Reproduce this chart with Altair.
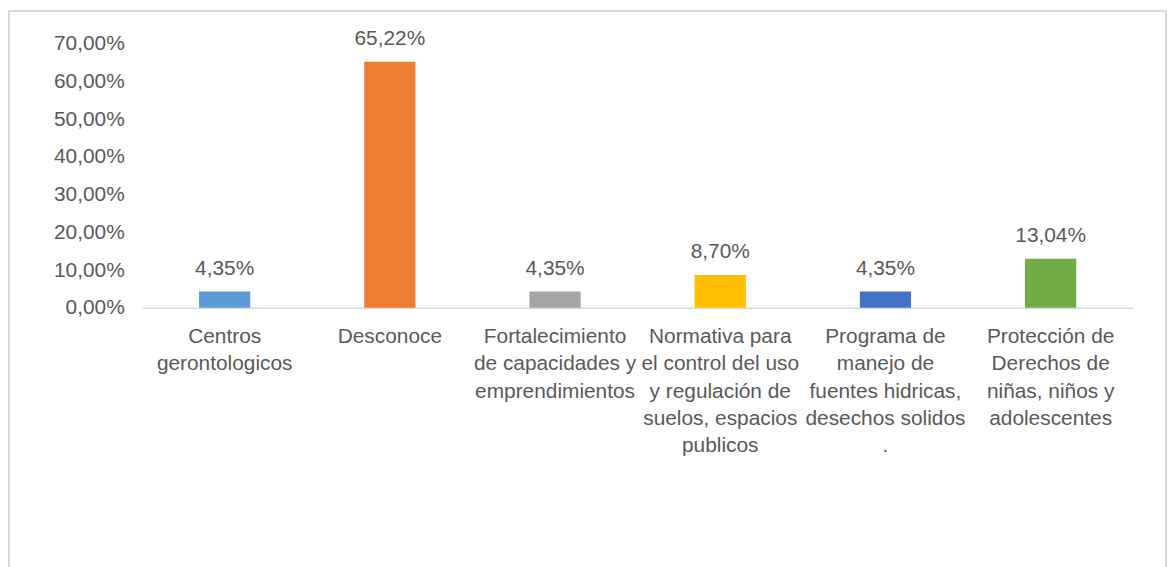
import altair as alt
import pandas as pd

label_lines = [
    ["Centros", "gerontologicos"],
    ["Desconoce"],
    ["Fortalecimiento", "de capacidades  y", "emprendimientos"],
    ["Normativa   para", "el control del uso", "y regulación de", "suelos, espacios", "publicos"],
    ["Programa  de", "manejo  de", "fuentes hidricas,", "desechos solidos", "."],
    ["Protección de", "Derechos de", "niñas, niños y", "adolescentes"],
]
categories = ["\n".join(l) for l in label_lines]
values = [4.35, 65.22, 4.35, 8.70, 4.35, 13.04]
colors = ["#5B9BD5", "#ED7D31", "#A5A5A5", "#FFC000", "#4472C4", "#70AD47"]
y_ticks = [0, 10, 20, 30, 40, 50, 60, 70]

df = pd.DataFrame({"cat": categories, "v": values, "color": colors})

FONT = "Liberation Sans, Arial, sans-serif"
TXT = "#595959"
FS = 21
W, H = 998, 266
PL, PT, PR, PB = 135, 34, 34, 260

x_scale = alt.Scale(paddingInner=0.69, paddingOuter=0.345)
y_scale = alt.Scale(domain=[0, 70])

x_axis = alt.Axis(
    labelExpr="split(datum.label, '\\n')", labelAngle=0, labelFont=FONT,
    labelFontSize=FS, labelColor=TXT, labelLineHeight=27.5, labelPadding=18,
    ticks=False, domainColor="#D9D9D9", domainWidth=1.5, labelLimit=300,
    labelOverlap=False,
)
y_axis = alt.Axis(
    values=y_ticks, labelExpr="replace(format(datum.value, '.2f'), '.', ',') + '%'",
    labelFont=FONT, labelFontSize=FS, labelColor=TXT, labelPadding=18,
    ticks=False, domain=False, grid=False, labelOverlap=False,
)

base = alt.Chart(df)
bars = base.mark_bar().encode(
    x=alt.X("cat:N", sort=None, title=None, scale=x_scale, axis=x_axis),
    y=alt.Y("v:Q", title=None, scale=y_scale, axis=y_axis),
    color=alt.Color("color:N", scale=None),
)
text = base.transform_calculate(
    lab="replace(format(datum.v, '.2f'), '.', ',') + '%'"
).mark_text(baseline="bottom", dy=-13, font=FONT, fontSize=FS, color=TXT).encode(
    x=alt.X("cat:N", sort=None, title=None, scale=x_scale, axis=x_axis),
    y=alt.Y("v:Q", title=None, scale=y_scale, axis=y_axis),
    text="lab:N",
)
frame = alt.Chart(pd.DataFrame({"a": [0]})).mark_rect(
    fill="transparent", stroke="#D9D9D9", strokeWidth=2
).encode(
    x=alt.value(-PL + 1), x2=alt.value(W + PR - 1),
    y=alt.value(-PT + 1), y2=alt.value(H + PB + 20),
)

chart = alt.layer(frame, bars, text).properties(
    width=W, height=H,
    autosize=alt.AutoSizeParams(type="none"),
    padding={"left": PL, "top": PT, "right": PR, "bottom": PB},
).configure_view(stroke=None).configure_axisY(labelOverlap=False)

chart.save("out.html", embed_options={"renderer": "svg", "actions": False})
